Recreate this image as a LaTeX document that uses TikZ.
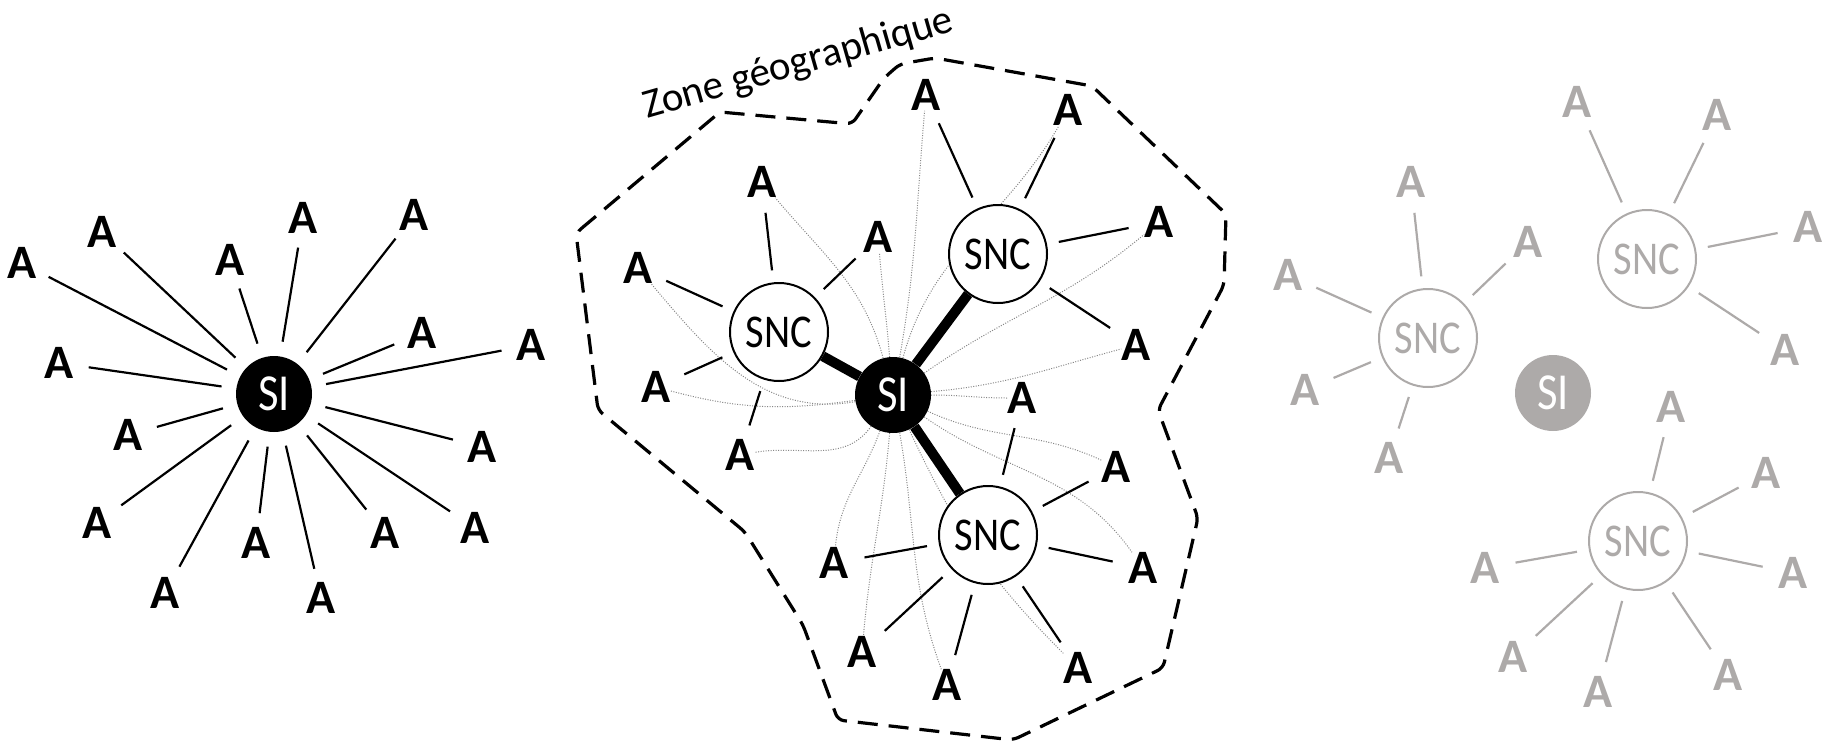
\documentclass[tikz,border=0pt]{standalone}
\usepackage{fontspec}
\setmainfont{Carlito}
\usetikzlibrary{calc}
\definecolor{gr}{RGB}{173,170,169}
\definecolor{dotc}{RGB}{135,135,135}
\newcommand\fontA{\fontsize{48}{48}\selectfont\bfseries}
\newcommand\fontSI{\fontsize{52}{52}\selectfont}
\newcommand\fontSNC{\fontsize{47}{47}\selectfont}
\newcommand\fontZone{\fontsize{41}{41}\selectfont}
\newcommand\narrowtext[1]{\scalebox{0.86}[1]{#1}}
\pgfdeclarelayer{bg}
\pgfsetlayers{bg,main}
\begin{document}
\begin{tikzpicture}[x=1pt,y=1pt,
  anode/.style={inner sep=0pt, font=\fontA},
  sinode/.style={circle, fill=black, minimum size=76pt, inner sep=0pt, font=\fontSI, text=white},
  sncnode/.style={circle, draw, line width=2pt, minimum size=98pt, inner sep=0pt, font=\fontSNC, fill=white},
  spoke/.style={line width=2.2pt},
  trunk/.style={line width=10pt},
  zone/.style={line width=3.2pt, dash pattern=on 20pt off 11pt, rounded corners=6pt},
  dotline/.style={line width=1pt, dotc, dash pattern=on 1pt off 1.5pt},
  gA/.style={anode, text=gr},
  gSI/.style={sinode, fill=gr},
  gSNC/.style={sncnode, draw=gr, text=gr},
  gspoke/.style={spoke, gr}]
\useasboundingbox (0,0) rectangle (1825,-747);

% ---------- left cluster ----------
\node[sinode] (L) at (274,-394) {\narrowtext{SI}};
\foreach \n/\x/\y in {1/22/263, 2/102/232, 3/230/260, 4/303/218, 5/414/215,
  6/422/333, 7/531/345, 8/59/363, 9/128/435, 10/482/447, 11/97/523,
  12/475/528, 13/385/533, 14/256/543, 15/165/593, 16/321/598}{
  \node[anode] (la\n) at (\x,-\y) {A};
  \draw[spoke] ($(L)!53pt!(la\n)$) -- ($(la\n)!30pt!(L)$);
}

% ---------- middle cluster ----------
\draw[zone] (576,-233) -- (720,-112) -- (852,-124) -- (884,-78) -- (900,-64) -- (935,-58)
  -- (1092,-86) -- (1226,-214) -- (1224,-285) -- (1158,-410) -- (1198,-518)
  -- (1163,-668) -- (1013,-740) -- (838,-720) -- (803,-625) -- (745,-532)
  -- (598,-410) -- cycle;
\node[anchor=base west, rotate=16, font=\fontZone, inner sep=0pt] (zl) at (647,-119) {Zone géographique};

\node[sinode] (M) at (893,-395) {\narrowtext{SI}};
\node[sncnode] (s1) at (779,-332) {\narrowtext{SNC}};
\node[sncnode] (s2) at (998,-254) {\narrowtext{SNC}};
\node[sncnode] (s3) at (988,-535) {\narrowtext{SNC}};
\draw[trunk] (M) -- (s1);
\draw[trunk] (M) -- (s2);
\draw[trunk] (M) -- (s3);

\foreach \n/\x/\y/\s/\o/\i in {1/926/95/s2/80/-95, 2/1068/110/s2/75/-120,
  3/762/182/s1/105/-50, 4/878/237/s1/95/-85, 5/1159/222/s2/35/-140,
  6/638/268/s1/190/-50, 7/1136/345/s2/5/-165, 8/656/387/s1/188/-15,
  9/1022/398/s3/0/180, 10/740/455/s1/235/10, 11/1116/467/s3/-25/155,
  12/1143/568/s3/-35/125, 13/834/563/s3/-110/85, 14/862/652/s3/-95/85,
  15/947/685/s3/-80/110, 16/1078/668/s3/-65/135}{
  \node[anode] (m\n) at (\x,-\y) {A};
  \draw[spoke] ($(\s)!62pt!(m\n)$) -- ($(m\n)!31pt!(\s)$);
  \begin{pgfonlayer}{bg}
    \draw[dotline] (M) to[out=\o,in=\i] (m\n);
  \end{pgfonlayer}
}

% ---------- right (grey) cluster ----------
\node[gSI] (G) at (1553,-393) {\narrowtext{SI}};
\node[gSNC] (gs1) at (1428,-338) {\narrowtext{SNC}};
\node[gSNC] (gs2) at (1647,-259) {\narrowtext{SNC}};
\node[gSNC] (gs3) at (1638,-541) {\narrowtext{SNC}};
\foreach \n/\x/\y/\s in {1/1411/182/gs1, 2/1528/242/gs1, 3/1288/275/gs1,
  4/1305/390/gs1, 5/1389/458/gs1, 6/1577/102/gs2, 7/1717/115/gs2,
  8/1808/227/gs2, 9/1785/350/gs2, 10/1671/407/gs3, 11/1766/473/gs3,
  12/1793/573/gs3, 13/1485/568/gs3, 14/1513/657/gs3, 15/1598/692/gs3,
  16/1728/675/gs3}{
  \node[gA] (ga\n) at (\x,-\y) {A};
  \draw[gspoke] ($(\s)!62pt!(ga\n)$) -- ($(ga\n)!31pt!(\s)$);
}
\end{tikzpicture}
\end{document}
